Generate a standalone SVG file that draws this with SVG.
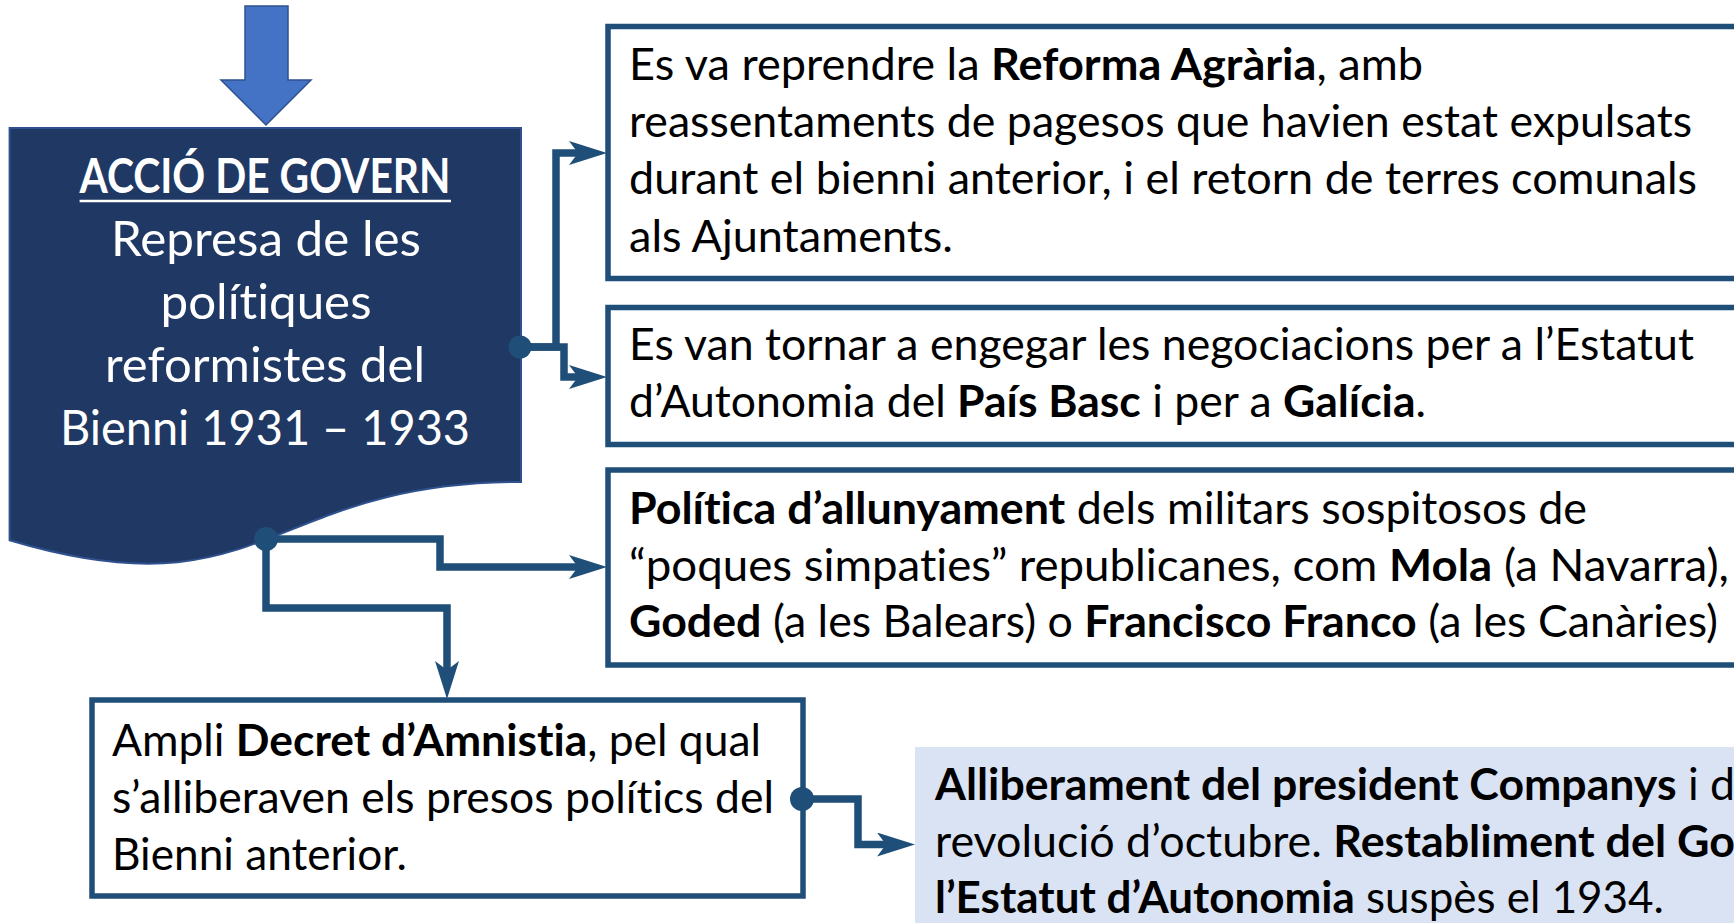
<svg xmlns="http://www.w3.org/2000/svg" width="1734" height="923" viewBox="0 0 1734 923">
<style>
.t{font-family:Lato,"Open Sans","Liberation Sans",sans-serif;font-size:44px;fill:#000;font-variant-ligatures:none}
.w{font-family:Lato,"Open Sans","Liberation Sans",sans-serif;font-size:48px;fill:#fff;text-anchor:middle;font-variant-ligatures:none}
.b{font-weight:bold}
.box{fill:#fff;stroke:#1F4E79;stroke-width:5.5}
.con{fill:none;stroke:#1F4E79;stroke-width:7.5;marker-end:url(#ah)}
.dot{fill:#1F4E79}
</style>
<defs>
<marker id="ah" markerUnits="userSpaceOnUse" viewBox="0 0 38 24" markerWidth="38" markerHeight="24" refX="12" refY="12" orient="auto">
<path d="M0,0 L38,12 L0,24 L9,12 Z" fill="#1F4E79"/>
</marker>
</defs>
<rect width="1734" height="923" fill="#fff"/>
<g id="arrow-in">
<polygon points="245,6 288,6 288,80 311,80 266,125 221,80 245,80" fill="#4472C4" stroke="#2F528F" stroke-width="1.5"/>
</g>
<g id="accio">
<path d="M9.6,128 H521 V482 C265.3,482 265.3,616.8 9.6,540.3 Z" fill="#203864" stroke="#2F528F" stroke-width="2"/>
<text class="w b" x="265" y="193" textLength="371" lengthAdjust="spacingAndGlyphs">ACCIÓ DE GOVERN</text>
<line x1="79.6" y1="201" x2="451" y2="201" stroke="#fff" stroke-width="2.5"/>
<text class="w" x="266" y="256" textLength="310" lengthAdjust="spacingAndGlyphs">Represa de les</text>
<text class="w" x="266" y="319" textLength="211" lengthAdjust="spacingAndGlyphs">polítiques</text>
<text class="w" x="265" y="382" textLength="320" lengthAdjust="spacingAndGlyphs">reformistes del</text>
<text class="w" x="265" y="445" textLength="410" lengthAdjust="spacingAndGlyphs">Bienni 1931 – 1933</text>
</g>
<g id="reforma">
<rect class="box" x="608" y="26.5" width="1200" height="252"/>
<text class="t" x="629" y="80" textLength="794" lengthAdjust="spacingAndGlyphs">Es va reprendre la <tspan class="b">Reforma Agrària</tspan>, amb</text>
<text class="t" x="629" y="137" textLength="1063" lengthAdjust="spacingAndGlyphs">reassentaments de pagesos que havien estat expulsats</text>
<text class="t" x="629" y="194" textLength="1068" lengthAdjust="spacingAndGlyphs">durant el bienni anterior, i el retorn de terres comunals</text>
<text class="t" x="629" y="251.5" textLength="324" lengthAdjust="spacingAndGlyphs">als Ajuntaments.</text>
</g>
<g id="estatut">
<rect class="box" x="608" y="307.5" width="1200" height="137"/>
<text class="t" x="629" y="360" textLength="1065" lengthAdjust="spacingAndGlyphs">Es van tornar a engegar les negociacions per a l’Estatut</text>
<text class="t" x="629" y="417" textLength="797" lengthAdjust="spacingAndGlyphs">d’Autonomia del <tspan class="b">País Basc</tspan> i per a <tspan class="b">Galícia</tspan>.</text>
</g>
<g id="militars">
<rect class="box" x="608" y="470" width="1200" height="195"/>
<text class="t" x="629" y="524" textLength="958" lengthAdjust="spacingAndGlyphs"><tspan class="b">Política d’allunyament</tspan> dels militars sospitosos de</text>
<text class="t" x="629" y="580.5" textLength="1100" lengthAdjust="spacingAndGlyphs">“poques simpaties” republicanes, com <tspan class="b">Mola</tspan> (a Navarra),</text>
<text class="t" x="629" y="637" textLength="1089" lengthAdjust="spacingAndGlyphs"><tspan class="b">Goded</tspan> (a les Balears) o <tspan class="b">Francisco Franco</tspan> (a les Canàries)</text>
</g>
<g id="amnistia">
<rect class="box" x="92" y="700" width="711" height="196"/>
<text class="t" x="112" y="756" textLength="649" lengthAdjust="spacingAndGlyphs">Ampli <tspan class="b">Decret d’Amnistia</tspan>, pel qual</text>
<text class="t" x="112" y="813" textLength="662" lengthAdjust="spacingAndGlyphs">s’alliberaven els presos polítics del</text>
<text class="t" x="112" y="870" textLength="295" lengthAdjust="spacingAndGlyphs">Bienni anterior.</text>
</g>
<g id="companys">
<rect x="915" y="747" width="900" height="200" fill="#DAE3F3"/>
<text class="t" x="935" y="800" textLength="800" lengthAdjust="spacingAndGlyphs"><tspan class="b">Alliberament del president Companys</tspan> i d</text>
<text class="t" x="935" y="857" textLength="800" lengthAdjust="spacingAndGlyphs">revolució d’octubre. <tspan class="b">Restabliment del Go</tspan></text>
<text class="t" x="935" y="913" textLength="729" lengthAdjust="spacingAndGlyphs"><tspan class="b">l’Estatut d’Autonomia</tspan> suspès el 1934.</text>
</g>
<g id="connectors">
<path class="con" d="M520,347 H556 V153 H581"/>
<path class="con" d="M520,347 H564 V377 H581"/>
<path class="con" d="M266,539 H440 V567 H581"/>
<path class="con" d="M266,539 V608 H447 V673"/>
<path class="con" d="M802,799 H858 V844.5 H889"/>
<circle class="dot" cx="520" cy="347" r="11.5"/>
<circle class="dot" cx="266" cy="539" r="12"/>
<circle class="dot" cx="802" cy="799" r="12"/>
</g>
</svg>
